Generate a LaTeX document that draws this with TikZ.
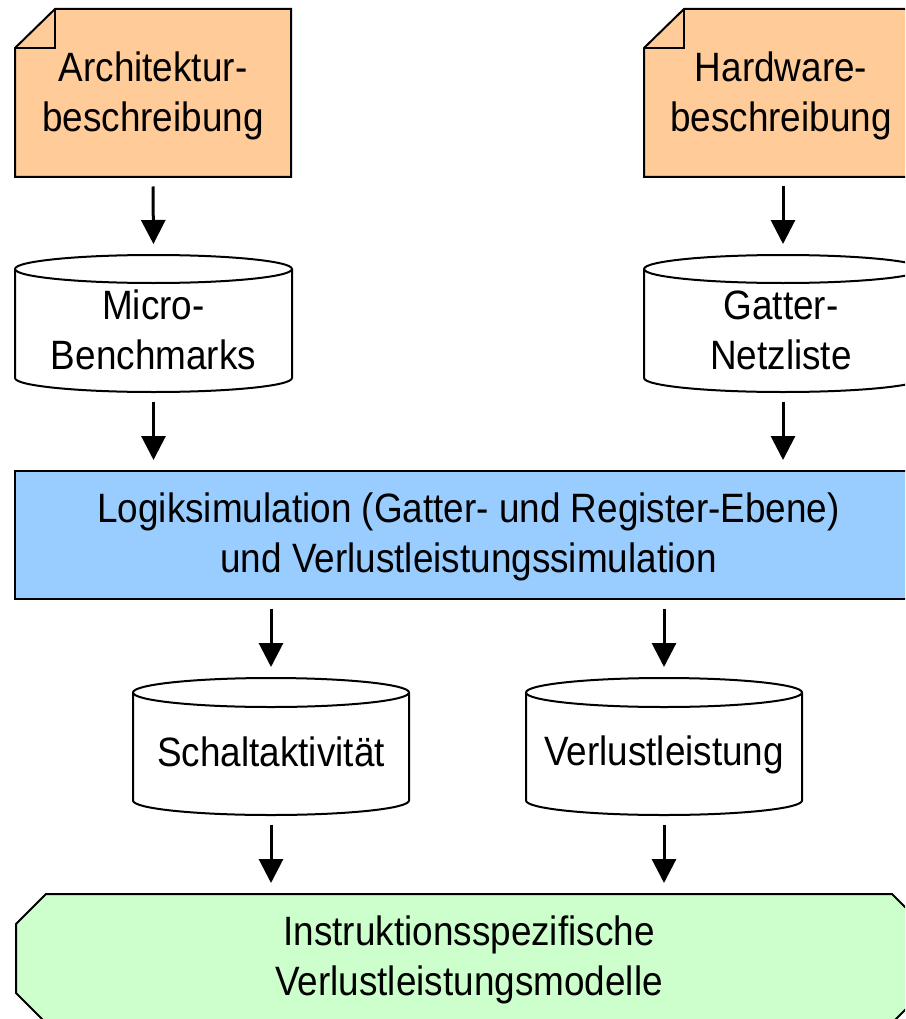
\documentclass[tikz,border=0pt]{standalone}
\usepackage{fontspec}
\newfontfamily\diafont[FakeStretch=0.9]{Liberation Sans}
\usetikzlibrary{arrows.meta}
\definecolor{docorange}{HTML}{FFCC99}
\definecolor{simblue}{HTML}{99CCFF}
\definecolor{modgreen}{HTML}{CCFFCC}
\tikzset{
  shapeline/.style={draw=black, line width=2pt, line join=miter},
  frame/.style={inner sep=0pt, outer sep=0pt, draw=none},
  label/.style={inner sep=0pt, align=center, font=\diafont\fontsize{41}{50}\selectfont},
  conn/.style={line width=3pt, -{Triangle[width=24pt,length=24pt]}, shorten <=9.5pt, shorten >=11pt}
}
\begin{document}
\begin{tikzpicture}[x=1pt,y=1pt]
\useasboundingbox (0,0) rectangle (905,-1019);
\clip (0,0) rectangle (905,-1019);

% ---- document shapes ----
\filldraw[shapeline, fill=docorange] (15,-48) -- (55,-9) -- (291,-9) -- (291,-177) -- (15,-177) -- cycle;
\draw[shapeline] (55,-9) -- (55,-48) -- (15,-48);
\node[frame, minimum width=276pt, minimum height=168pt] (archF) at (153,-93) {};
\node[label] (arch) at (153,-96) {Architektur-\\beschreibung};

\filldraw[shapeline, fill=docorange] (644,-48) -- (684,-9) -- (922,-9) -- (922,-177) -- (644,-177) -- cycle;
\draw[shapeline] (684,-9) -- (684,-48) -- (644,-48);
\node[frame, minimum width=278pt, minimum height=168pt] (hwF) at (783,-93) {};
\node[label] (hw) at (781,-96) {Hardware-\\beschreibung};

% ---- upper cylinders ----
\filldraw[shapeline, fill=white] (15,-269) -- (15,-378) arc[start angle=180,end angle=360,x radius=138.5pt,y radius=14pt] -- (292,-269) arc[start angle=0,end angle=180,x radius=138.5pt,y radius=14pt] -- cycle;
\draw[shapeline] (15,-269) arc[start angle=180,end angle=360,x radius=138.5pt,y radius=14pt];
\node[frame, minimum width=277pt, minimum height=137pt] (microF) at (153.5,-323.5) {};
\node[label] (micro) at (153.5,-330) {Micro-\\Benchmarks};

\filldraw[shapeline, fill=white] (644,-269) -- (644,-378) arc[start angle=180,end angle=360,x radius=139pt,y radius=14pt] -- (922,-269) arc[start angle=0,end angle=180,x radius=139pt,y radius=14pt] -- cycle;
\draw[shapeline] (644,-269) arc[start angle=180,end angle=360,x radius=139pt,y radius=14pt];
\node[frame, minimum width=278pt, minimum height=137pt] (netzF) at (783,-323.5) {};
\node[label] (netz) at (781,-330.5) {Gatter-\\Netzliste};

% ---- simulation box ----
\filldraw[shapeline, fill=simblue] (15,-471) rectangle (922,-599);
\node[frame, minimum width=907pt, minimum height=128pt] (simF) at (468.5,-535) {};
\node[label] (sim) at (468.5,-537) {Logiksimulation (Gatter- und Register-Ebene)\\und Verlustleistungssimulation};

% ---- lower cylinders ----
\filldraw[shapeline, fill=white] (133,-692.5) -- (133,-800.5) arc[start angle=180,end angle=360,x radius=138pt,y radius=14.5pt] -- (409,-692.5) arc[start angle=0,end angle=180,x radius=138pt,y radius=14.5pt] -- cycle;
\draw[shapeline] (133,-692.5) arc[start angle=180,end angle=360,x radius=138pt,y radius=14.5pt];
\node[frame, minimum width=276pt, minimum height=137pt] (schaltF) at (271,-746.5) {};
\node[label] (schalt) at (271,-751.5) {Schaltaktivität};

\filldraw[shapeline, fill=white] (526,-692.5) -- (526,-800.5) arc[start angle=180,end angle=360,x radius=138pt,y radius=14.5pt] -- (802,-692.5) arc[start angle=0,end angle=180,x radius=138pt,y radius=14.5pt] -- cycle;
\draw[shapeline] (526,-692.5) arc[start angle=180,end angle=360,x radius=138pt,y radius=14.5pt];
\node[frame, minimum width=276pt, minimum height=137pt] (verlF) at (664,-746.5) {};
\node[label] (verl) at (664,-755) {Verlustleistung};

% ---- model box ----
\filldraw[shapeline, fill=modgreen] (46,-894) -- (892,-894) -- (922,-924) -- (922,-993) -- (892,-1023) -- (46,-1023) -- (16,-993) -- (16,-924) -- cycle;
\node[frame, minimum width=906pt, minimum height=129pt] (modF) at (469,-958.5) {};
\node[label] (mod) at (469,-960) {Instruktionsspezifische\\Verlustleistungsmodelle};

% ---- connectors ----
\draw[conn] (archF.south) -- (microF.north);
\draw[conn] (hwF.south) -- (netzF.north);
\draw[conn] (microF.south) -- (simF.north -| microF.south);
\draw[conn] (netzF.south) -- (simF.north -| netzF.south);
\draw[conn] (simF.south -| schaltF.north) -- (schaltF.north);
\draw[conn] (simF.south -| verlF.north) -- (verlF.north);
\draw[conn] (schaltF.south) -- (modF.north -| schaltF.south);
\draw[conn] (verlF.south) -- (modF.north -| verlF.south);
\end{tikzpicture}
\end{document}
